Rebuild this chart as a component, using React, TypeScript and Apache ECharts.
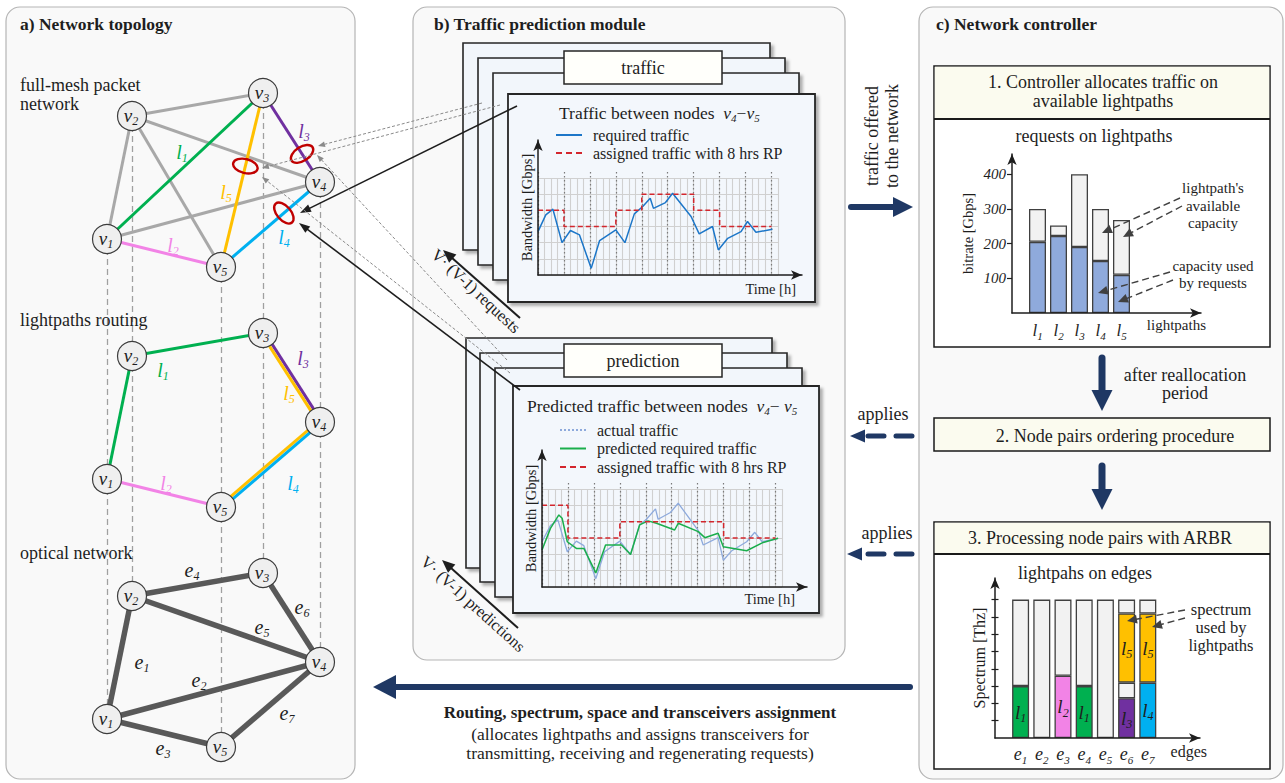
import React, { useEffect, useRef } from 'react';
import * as echarts from 'echarts';

const W = 1285;
const H = 783;
const FONT = "'Liberation Serif', 'Times New Roman', serif";
const INK = '#1e1e1e';
const NAVY = '#1f3864';
const LATTICE = '#d0d0d0';

// ---------------- a) Network topology ----------------
const NODE_IDS = ['v1', 'v2', 'v3', 'v4', 'v5'];
const NODE_X = [107, 132, 263, 320, 221];
const NODE_Y = [239, 116, 93, 182, 267];
const LAYER_SHIFT = [0, 240, 480];
const LAYER_TITLES = ['full-mesh packet\nnetwork', 'lightpaths routing', 'optical network'];
const LAYER_TITLE_Y = [94.5, 320, 553];

const LP_COLOR: Record<string, string> = {
  l1: '#00b050', l2: '#f283e6', l3: '#7030a0', l4: '#00b0f0', l5: '#ffc000', mesh: '#a8a8a8',
};
const MESH_LINKS = [
  ['v1', 'v2', 'mesh'], ['v2', 'v3', 'mesh'], ['v2', 'v4', 'mesh'], ['v2', 'v5', 'mesh'], ['v1', 'v4', 'mesh'],
  ['v1', 'v3', 'l1'], ['v1', 'v5', 'l2'], ['v3', 'v4', 'l3'], ['v5', 'v4', 'l4'], ['v3', 'v5', 'l5'],
];
const MESH_LABELS: [string, number, number][] = [['l1', 182, 152], ['l5', 226, 192], ['l3', 304, 131], ['l2', 173, 245], ['l4', 284, 237]];
const FAILED_LINKS: [string, string, number][] = [['v3', 'v5', 0.42], ['v3', 'v4', 0.685], ['v5', 'v4', 0.635]];

const ROUTING_LINKS = [['v1', 'v2', 'l1'], ['v2', 'v3', 'l1'], ['v1', 'v5', 'l2']];
const ROUTING_SHARED = [['v3', 'v4', 'l3', 'l5'], ['v5', 'v4', 'l5', 'l4']];
const ROUTING_LABELS: [string, number, number][] = [['l1', 163, 370], ['l3', 303, 358], ['l5', 289, 393], ['l2', 166, 483], ['l4', 293, 483]];

const OPTICAL_LINKS = [['v1', 'v2'], ['v1', 'v4'], ['v1', 'v5'], ['v2', 'v3'], ['v2', 'v4'], ['v3', 'v4'], ['v4', 'v5']];
const OPTICAL_LABELS: [string, number, number][] = [['e4', 192, 570], ['e6', 302, 607], ['e5', 262, 627], ['e1', 142, 662], ['e2', 199, 680], ['e7', 287, 713], ['e3', 163, 748]];

// ---------------- b) Traffic prediction module ----------------
const TRAFFIC_H = [0, 2.4, 4.6, 7.4, 10, 12.8, 16.4, 19, 24, 26.8, 29.7, 32.3, 34.6, 35.6, 39.3, 41.5, 47.2, 49.7, 53.8, 55.6, 58.5, 62.6, 64.6, 67.2, 72.3];
const TRAFFIC_V = [2.68, 3.72, 4.07, 2.0, 2.75, 2.48, 0.41, 2.13, 2.79, 2.0, 3.78, 4.24, 4.75, 4.12, 4.48, 5.06, 3.62, 2.54, 3.0, 1.55, 2.27, 2.68, 3.31, 2.64, 2.83];
const ASSIGNED_TOP = [4, 3, 3, 4, 5, 5, 4, 3, 3]; // per 8 h reallocation period

const ACTUAL_H = [0, 2.6, 4.9, 7.8, 10.6, 12.9, 16.6, 19.3, 24, 27.3, 30.1, 32.2, 35, 35.8, 39.6, 42, 48.2, 49.7, 54.3, 55.9, 58.4, 63.1, 65.6, 67.9, 72.8];
const ACTUAL_V = [2.77, 3.76, 4.11, 2.16, 2.81, 2.53, 0.51, 2.16, 2.81, 1.99, 3.8, 4.15, 4.78, 4.15, 4.56, 5.13, 3.45, 2.57, 3.02, 1.64, 2.2, 2.77, 3.35, 2.77, 2.98];
const PRED_H = [0, 2.6, 5.2, 6.2, 7.8, 10.6, 12.9, 16.6, 19.6, 24.5, 27.3, 30.1, 32.7, 35.3, 40.9, 42, 48.2, 50.2, 54.3, 55.9, 63.1, 68.2, 72.8];
const PRED_V = [2.26, 3.59, 4.41, 4.21, 2.77, 2.36, 2.36, 0.86, 2.57, 2.57, 1.99, 3.8, 4.05, 3.9, 3.49, 3.9, 3.39, 3.02, 3.29, 2.46, 2.22, 2.73, 2.98];
const ASSIGNED_BOTTOM = [5, 3, 3, 4, 4, 4, 4, 3, 3];
const PERIOD_H = 8;

// ---------------- c) Network controller ----------------
const LIGHTPATHS = ['l1', 'l2', 'l3', 'l4', 'l5'];
const LP_CAPACITY = [300, 252, 400, 300, 268];
const LP_USED = [205, 222, 190, 150, 110];
const BITRATE_TICKS = [100, 200, 300, 400];

const EDGES = ['e1', 'e2', 'e3', 'e4', 'e5', 'e6', 'e7'];
const SPEC_L1 = [3, null, null, 3, null, null, null];
const SPEC_L2 = [null, null, 3.6, null, null, null, null];
const SPEC_L3 = [null, null, null, null, null, 2.3, null];
const SPEC_L4 = [null, null, null, null, null, null, 3.2];
const SPEC_GAP = [null, null, null, null, null, 0.9, null];
const SPEC_L5 = [null, null, null, null, null, 4.0, 4.0];
const SPEC_FREE = [5, 8, 4.4, 5, 8, 0.8, 0.8];
const SPEC_TICKS = [1, 2, 3, 4, 5, 6, 7, 8];

// ---------------- layout helpers ----------------
const PANELS = [
  { x: 6, y: 7, w: 349, h: 772, title: 'a) Network topology', tx: 20 },
  { x: 413, y: 7, w: 432, h: 653, title: 'b) Traffic prediction module', tx: 434 },
  { x: 919, y: 7, w: 364, h: 772, title: 'c) Network controller', tx: 936 },
];
const STACKS = [
  { backs: [[463, 43, 307, 207], [478, 58, 307, 207], [493, 73, 306, 207]], front: [508, 94, 307, 208], tag: [564, 51, 158, 33], tagText: 'traffic' },
  { backs: [[466, 338, 306, 230], [480, 353, 307, 229], [495, 368, 307, 229]], front: [513, 386, 306, 227], tag: [564, 344, 158, 33], tagText: 'prediction' },
];

const ICON_SOLID = 'path://M0,0H26V2H0Z';
const ICON_DASHED = 'path://M0,0H6V2H0Z M10,0H16V2H10Z M20,0H26V2H20Z';
const ICON_DOTTED = 'path://M0,0H2V2H0Z M4,0H6V2H4Z M8,0H10V2H8Z M12,0H14V2H12Z M16,0H18V2H16Z M20,0H22V2H20Z M24,0H26V2H24Z';

const sub = (b: string, n: string) => `{i|${b}}{s|${n}}`;
function rich(size: number, color: string) {
  return {
    i: { fontFamily: FONT, fontStyle: 'italic', fontSize: size, color, fill: color, lineHeight: size + 4 },
    s: { fontFamily: FONT, fontStyle: 'italic', fontSize: Math.round(size * 0.62), color, fill: color, height: Math.round(size * 0.6), verticalAlign: 'bottom' },
    t: { fontFamily: FONT, fontSize: size, color, fill: color, lineHeight: size + 4 },
  };
}

function rect(x: number, y: number, w: number, h: number, style: any, z: number, r = 0): any {
  return { type: 'rect', z, silent: true, shape: { x, y, width: w, height: h, r }, style };
}
function text(str: string, x: number, y: number, o: any = {}): any {
  return {
    type: 'text', x, y, z: o.z ?? 60, rotation: o.rot ?? 0, silent: true,
    style: {
      text: str, x: 0, y: 0, fill: o.color ?? INK, fontFamily: FONT, fontSize: o.size ?? 18,
      fontWeight: o.bold ? 'bold' : 'normal', fontStyle: o.italic ? 'italic' : 'normal',
      align: o.align ?? 'center', verticalAlign: o.va ?? 'middle', lineHeight: o.lh, rich: o.rich,
    },
  };
}
function arrow(x1: number, y1: number, x2: number, y2: number, o: any = {}): any[] {
  const color = o.color ?? INK, w = o.width ?? 1.5, hl = o.hl ?? 10, hw = o.hw ?? 3.5, z = o.z ?? 60;
  const dx = x2 - x1, dy = y2 - y1, L = Math.hypot(dx, dy), ux = dx / L, uy = dy / L, px = -uy, py = ux;
  const bx = x2 - ux * hl, by = y2 - uy * hl;
  const ex = x2 - ux * hl * 0.7, ey = y2 - uy * hl * 0.7;
  return [
    { type: 'line', z, silent: true, shape: { x1, y1, x2: ex, y2: ey }, style: { stroke: color, lineWidth: w, lineDash: o.dash, lineCap: o.cap ?? 'butt', fill: 'none' } },
    { type: 'polygon', z, silent: true, shape: { points: [[x2, y2], [bx + px * hw, by + py * hw], [bx - px * hw, by - py * hw]] }, style: { fill: color } },
  ];
}

const hidden = { axisLine: { show: false }, axisTick: { show: false }, axisLabel: { show: false }, splitLine: { show: false } };
const arrowLine = { show: true, symbol: ['none', 'arrow'], symbolSize: [7, 11], lineStyle: { color: INK, width: 1.5 } };
const nameStyle = (size: number, extra: any = {}) => ({ fontFamily: FONT, fontSize: size, color: INK, ...extra });

function buildOption() {
  const pos = (id: string, layer: number) => {
    const i = NODE_IDS.indexOf(id);
    return [NODE_X[i], NODE_Y[i] + LAYER_SHIFT[layer]];
  };
  const nodeData = (layer: number) => NODE_IDS.map((id) => ({ name: id, value: pos(id, layer) }));
  const graph = (layer: number, links: any[]) => ({
    type: 'graph', coordinateSystem: 'cartesian2d', xAxisIndex: 0, yAxisIndex: 0, layout: 'none', silent: true, z: 12,
    symbol: 'circle', symbolSize: 29,
    itemStyle: { color: '#efefef', borderColor: '#3c3c3c', borderWidth: 1.2 },
    label: { show: true, position: 'inside', offset: [-1, -1], formatter: (p: any) => sub('v', p.name.slice(1)), rich: rich(19, INK) },
    lineStyle: { opacity: 1, curveness: 0 },
    emphasis: { disabled: true },
    data: nodeData(layer),
    links,
  });

  // ---------- graphic ----------
  const G: any[] = [];
  PANELS.forEach((p) => {
    G.push(rect(p.x, p.y, p.w, p.h, { fill: '#f9f9f9', stroke: '#b5b5b5', lineWidth: 1.2 }, 1, 14));
    G.push(text(p.title, p.tx, 24, { bold: true, size: 17.5, align: 'left' }));
  });
  LAYER_TITLES.forEach((t, i) => G.push(text(t, 20, LAYER_TITLE_Y[i], { align: 'left', lh: 19, size: 18 })));

  const lpLabel = (arr: [string, number, number][], colored: boolean) =>
    arr.forEach(([n, x, y]) => {
      const c = colored ? LP_COLOR[n] : INK;
      G.push(text(sub(n[0], n.slice(1)), x, y, { rich: rich(20, c), color: c }));
    });
  lpLabel(MESH_LABELS, true);
  lpLabel(ROUTING_LABELS, true);
  lpLabel(OPTICAL_LABELS, false);

  FAILED_LINKS.forEach(([s, t, f]) => {
    const a = pos(s, 0), b = pos(t, 0);
    const cx = a[0] + (b[0] - a[0]) * f, cy = a[1] + (b[1] - a[1]) * f;
    const ang = Math.atan2(b[1] - a[1], b[0] - a[0]) + Math.PI / 2;
    G.push({ type: 'ellipse', z: 60, silent: true, x: cx, y: cy, rotation: -ang, shape: { cx: 0, cy: 0, rx: 12.5, ry: 7 }, style: { fill: 'none', stroke: '#c00000', lineWidth: 2.4 } });
  });

  // panel b stacks
  STACKS.forEach((s) => {
    s.backs.forEach((r, i) => G.push(rect(r[0], r[1], r[2], r[3], { fill: '#f2f6fb', stroke: '#262626', lineWidth: 1.6, shadowBlur: 3, shadowOffsetX: 3, shadowOffsetY: 3, shadowColor: 'rgba(0,0,0,0.3)' }, 2 + i)));
    const t = s.tag;
    G.push(rect(t[0], t[1], t[2], t[3], { fill: '#fffffb', stroke: '#262626', lineWidth: 1.5 }, 6));
    G.push(text(s.tagText, t[0] + t[2] / 2, t[1] + t[3] / 2, { size: 18, z: 7 }));
    const f = s.front;
    G.push(rect(f[0], f[1], f[2], f[3], { fill: '#f3f7fc', stroke: '#262626', lineWidth: 1.8, shadowBlur: 3, shadowOffsetX: 3, shadowOffsetY: 3, shadowColor: 'rgba(0,0,0,0.3)' }, 8));
  });
  G.push(text(`{t|Traffic between nodes  }${sub('v', '4')}{t|−}${sub('v', '5')}`, 559, 113, { align: 'left', rich: rich(17.5, INK), size: 17.5 }));
  G.push(text(`{t|Predicted traffic between nodes  }${sub('v', '4')}{t|− }${sub('v', '5')}`, 527, 406, { align: 'left', rich: rich(17.5, INK), size: 17.5 }));
  G.push(text('V· (V-1) requests', 476, 291, { size: 16.5, rot: -43 * Math.PI / 180 }));
  G.push(text('V· (V-1) predictions', 473, 604, { size: 16.5, rot: -42 * Math.PI / 180 }));

  // arrows between panels a and b
  [[517, 106, 300, 213], [520, 390, 299, 223]].forEach((a) => G.push(...arrow(a[0], a[1], a[2], a[3], { width: 1.6, hl: 11, hw: 4 })));
  [[482, 103, 318, 146], [500, 105, 262, 168], [507, 360, 317, 155], [510, 373, 262, 177]].forEach((a) =>
    G.push(...arrow(a[0], a[1], a[2], a[3], { width: 1, color: '#8a8a8a', dash: [3, 2], hl: 7, hw: 2.8 })));
  [[520, 318, 443, 250], [518, 628, 442, 560]].forEach((a) => G.push(...arrow(a[0], a[1], a[2], a[3], { width: 2, hl: 13, hw: 5.5 })));

  // panel c boxes
  G.push(rect(934, 66, 336, 281, { fill: '#ffffff', stroke: '#1a1a1a', lineWidth: 1.5 }, 2));
  G.push(rect(934.8, 66.8, 334.4, 52, { fill: '#fbfbef' }, 3));
  G.push({ type: 'line', z: 4, silent: true, shape: { x1: 934, y1: 119, x2: 1270, y2: 119 }, style: { stroke: '#1a1a1a', lineWidth: 2.2 } });
  G.push(text('1. Controller allocates traffic on\navailable lightpaths', 1103, 91.5, { lh: 19 }));
  G.push(text('requests on lightpaths', 1094, 136));
  G.push(rect(934, 418, 336, 33, { fill: '#fbfbef', stroke: '#1a1a1a', lineWidth: 1.5 }, 2));
  G.push(text('2. Node pairs ordering procedure', 1115, 435.5));
  G.push(rect(934, 522, 336, 247, { fill: '#ffffff', stroke: '#1a1a1a', lineWidth: 1.5 }, 2));
  G.push(rect(934.8, 522.8, 334.4, 31, { fill: '#fbfbef' }, 3));
  G.push({ type: 'line', z: 4, silent: true, shape: { x1: 934, y1: 554, x2: 1270, y2: 554 }, style: { stroke: '#1a1a1a', lineWidth: 2.2 } });
  G.push(text('3. Processing node pairs with ARBR', 1100, 538));
  G.push(text('lightpahs on edges', 1085, 573));
  G.push(text("lightpath's\navailable\ncapacity", 1213, 205.5, { size: 15, lh: 17.5 }));
  G.push(text('capacity used\nby requests', 1213, 274.5, { size: 15, lh: 17.5 }));
  G.push(text('spectrum\nused by\nlightpaths', 1221, 627, { size: 16.5, lh: 18 }));
  [[1180, 198, 1102, 233], [1182, 206, 1123, 237], [1170, 272, 1098, 293], [1173, 280, 1118, 302], [1185, 610, 1127, 621], [1185, 618, 1152, 627]]
    .forEach((a) => G.push(...arrow(a[0], a[1], a[2], a[3], { width: 1.4, color: '#404040', dash: [7, 4], hl: 10, hw: 4.5 })));

  // navy flow arrows
  const navy = { color: NAVY, cap: 'round' };
  G.push(...arrow(851, 207, 913, 207, { ...navy, width: 6, hl: 20, hw: 10 }));
  G.push(text('traffic offered\nto the network', 882, 136, { lh: 20, rot: Math.PI / 2 }));
  G.push(...arrow(1102, 358, 1102, 411, { ...navy, width: 7, hl: 21, hw: 10.5 }));
  G.push(text('after reallocation\nperiod', 1185, 384, { lh: 18 }));
  G.push(...arrow(1102, 466, 1102, 510, { ...navy, width: 7, hl: 21, hw: 10.5 }));
  G.push(...arrow(912, 436, 850, 436, { ...navy, width: 5, hl: 15, hw: 6.5, dash: [16, 12] }));
  G.push(text('applies', 883, 414));
  G.push(...arrow(912, 554, 847, 554, { ...navy, width: 5, hl: 15, hw: 6.5, dash: [16, 12] }));
  G.push(text('applies', 887, 533));
  G.push(...arrow(910, 687, 373, 687, { ...navy, width: 6, hl: 23, hw: 12 }));
  G.push(text('Routing, spectrum, space and transceivers assignment', 640, 712, { bold: true, size: 17 }));
  G.push(text('(allocates lightpaths and assigns transceivers for\ntransmitting, receiving and regenerating requests)', 640, 743.5, { size: 17.5, lh: 19.5 }));

  // ---------- grids ----------
  const grids = [
    { left: 0, top: 0, width: W, height: H },
    { left: 538, top: 178, width: 240, height: 97 },
    { left: 538, top: 140, width: 264, height: 135 },
    { left: 538, top: 172, width: 233.5, height: 103 },
    { left: 542, top: 489, width: 240, height: 98 },
    { left: 542, top: 450, width: 265, height: 137 },
    { left: 542, top: 483, width: 233.5, height: 104 },
    { left: 1027, top: 174.2, width: 105, height: 138.8 },
    { left: 1012, top: 154, width: 189, height: 159 },
    { left: 1010, top: 599.6, width: 148.4, height: 138.4 },
    { left: 995, top: 578, width: 205, height: 160 },
  ].map((g) => ({ ...g, outerBoundsMode: 'none', containLabel: false }));

  const latticeX = (gi: number) => ({ type: 'value', gridIndex: gi, min: 0, max: 74, interval: 2, z: 10, ...hidden, splitLine: { show: true, lineStyle: { color: LATTICE, width: 1.1 } } });
  const latticeY = (gi: number) => ({ type: 'value', gridIndex: gi, min: 0, max: 6, interval: 1, z: 10, ...hidden, splitLine: { show: true, lineStyle: { color: LATTICE, width: 1.1 } } });
  const periodX = (gi: number) => ({ type: 'value', gridIndex: gi, min: 0, max: 72, interval: PERIOD_H, z: 11, ...hidden, splitLine: { show: true, lineStyle: { color: '#7a7a7a', type: [1.5, 2.5], width: 1.2 } } });
  const blankY = (gi: number) => ({ type: 'value', gridIndex: gi, min: 0, max: 1, show: false });
  const frameX = (gi: number, name: string, gap: number, pad: number, size: number) => ({
    type: 'value', gridIndex: gi, min: 0, max: 1, z: 13, ...hidden, axisLine: arrowLine,
    name, nameLocation: 'end', nameGap: gap, nameTextStyle: nameStyle(size, { align: 'right', verticalAlign: 'top', padding: [pad, 0, 0, 0] }),
  });
  const frameY = (gi: number, name: string, gap: number, size: number) => ({
    type: 'value', gridIndex: gi, min: 0, max: 1, z: 13, ...hidden, axisLine: arrowLine,
    name, nameLocation: 'middle', nameGap: gap, nameRotate: 90, nameTextStyle: nameStyle(size),
  });

  const xAxis = [
    { type: 'value', gridIndex: 0, min: 0, max: W, show: false },
    latticeX(1), frameX(2, 'Time [h]', -6, 6, 14.5), periodX(3),
    latticeX(4), frameX(5, 'Time [h]', -12, 4, 14.5), periodX(6),
    {
      type: 'category', gridIndex: 7, data: LIGHTPATHS, z: 13, axisLine: { show: false }, axisTick: { show: false }, splitLine: { show: false },
      axisLabel: { interval: 0, hideOverlap: false, margin: 7, formatter: (v: string) => sub('l', v.slice(1)), rich: rich(17, INK) },
    },
    frameX(8, 'lightpaths', 5, 4, 15),
    {
      type: 'category', gridIndex: 9, data: EDGES, z: 13, axisLine: { show: false }, axisTick: { show: false }, splitLine: { show: false },
      axisLabel: { interval: 0, hideOverlap: false, margin: 5, formatter: (v: string) => sub('e', v.slice(1)), rich: rich(18, INK) },
    },
    frameX(10, 'edges', 7, 5, 16),
  ];
  const yAxis = [
    { type: 'value', gridIndex: 0, min: 0, max: H, inverse: true, show: false },
    latticeY(1), frameY(2, 'Bandwidth [Gbps]', 4, 14.5), blankY(3),
    latticeY(4), frameY(5, 'Bandwidth [Gbps]', 4, 14.5), blankY(6),
    {
      type: 'value', gridIndex: 7, min: 0, max: 400, interval: 100, position: 'left', offset: 15, z: 13,
      axisLine: { show: false }, splitLine: { show: false },
      axisTick: { show: true, length: 5, customValues: BITRATE_TICKS, lineStyle: { color: INK, width: 1.2 } },
      axisLabel: { show: true, margin: 6, customValues: BITRATE_TICKS, formatter: (v: number) => (v === 0 ? '' : String(v)), fontFamily: FONT, fontStyle: 'italic', fontSize: 15, color: INK },
    },
    frameY(8, 'bitrate [Gbps]', 37, 14.5),
    {
      type: 'value', gridIndex: 9, min: 0, max: 8, interval: 1, position: 'left', offset: 15, z: 13,
      axisLine: { show: false }, splitLine: { show: false }, axisLabel: { show: false },
      axisTick: { show: true, length: 3.5, customValues: SPEC_TICKS, lineStyle: { color: INK, width: 1.2 } },
    },
    {
      type: 'value', gridIndex: 9, min: 0, max: 8, interval: 1, position: 'left', offset: 15, z: 13,
      axisLine: { show: false }, splitLine: { show: false }, axisLabel: { show: false },
      axisTick: { show: true, inside: true, length: 3.5, customValues: SPEC_TICKS, lineStyle: { color: INK, width: 1.2 } },
    },
    frameY(10, 'Spectrum [Thz]', 8, 16),
  ];

  // ---------- series ----------
  const stepData = (levels: number[]) => [...levels.map((v, i) => [i * PERIOD_H, v]), [levels.length * PERIOD_H, levels[levels.length - 1]]];
  const lineSeries = (name: string, xi: number, data: any[], color: string, extra: any = {}) => ({
    type: 'line', name, xAxisIndex: xi, yAxisIndex: xi, data, symbol: 'none', silent: true, z: 12,
    lineStyle: { color, width: 1.5, ...(extra.lineStyle || {}) }, itemStyle: { color }, step: extra.step,
  });
  const pair = (hs: number[], vs: number[]) => hs.map((h, i) => [h, vs[i]]);

  const barBorder = { borderColor: '#404040', borderWidth: 1.3 };
  const bitrateFree = LP_CAPACITY.map((c, i) => c - LP_USED[i]);
  const specBar = (name: string, data: any[], color: string, withLabel: boolean) => ({
    type: 'bar', name, xAxisIndex: 9, yAxisIndex: 9, stack: 'spectrum', barWidth: 17, data, silent: true, z: 12,
    itemStyle: { color, ...barBorder },
    label: withLabel ? { show: true, position: 'inside', formatter: () => sub(name[0], name.slice(1)), rich: rich(19, INK) } : { show: false },
  });

  const series: any[] = [
    {
      type: 'lines', coordinateSystem: 'cartesian2d', xAxisIndex: 0, yAxisIndex: 0, silent: true, z: 5,
      lineStyle: { color: '#a0a0a0', width: 1.3, type: [6, 4], opacity: 1 },
      data: NODE_IDS.map((id) => ({ coords: [pos(id, 0), pos(id, 2)] })),
    },
    graph(0, MESH_LINKS.map(([s, t, c]) => ({ source: s, target: t, lineStyle: { color: LP_COLOR[c], width: 3 } }))),
    {
      type: 'lines', coordinateSystem: 'cartesian2d', xAxisIndex: 0, yAxisIndex: 0, silent: true, z: 8,
      data: ROUTING_SHARED.flatMap(([s, t, cPlus, cMinus]) => {
        const a = pos(s, 1), b = pos(t, 1);
        const dx = b[0] - a[0], dy = b[1] - a[1], L = Math.hypot(dx, dy);
        const px = dy / L, py = -dx / L, off = 1.6;
        return [
          { coords: [[a[0] + px * off, a[1] + py * off], [b[0] + px * off, b[1] + py * off]], lineStyle: { color: LP_COLOR[cPlus], width: 3, opacity: 1 } },
          { coords: [[a[0] - px * off, a[1] - py * off], [b[0] - px * off, b[1] - py * off]], lineStyle: { color: LP_COLOR[cMinus], width: 3, opacity: 1 } },
        ];
      }),
    },
    graph(1, ROUTING_LINKS.map(([s, t, c]) => ({ source: s, target: t, lineStyle: { color: LP_COLOR[c], width: 3 } }))),
    graph(2, OPTICAL_LINKS.map(([s, t]) => ({ source: s, target: t, lineStyle: { color: '#595959', width: 5.5 } }))),

    lineSeries('required traffic', 1, pair(TRAFFIC_H, TRAFFIC_V), '#1c76c8'),
    lineSeries('assigned traffic with 8 hrs RP', 1, stepData(ASSIGNED_TOP), '#d3262d', { step: 'end', lineStyle: { type: [5, 3] } }),
    lineSeries('actual traffic', 4, pair(ACTUAL_H, ACTUAL_V), '#8eaadc', { lineStyle: { width: 1.3 } }),
    lineSeries('predicted required traffic', 4, pair(PRED_H, PRED_V), '#1aae4c'),
    lineSeries('assigned traffic with 8 hrs RP', 4, stepData(ASSIGNED_BOTTOM), '#d3262d', { step: 'end', lineStyle: { type: [5, 3] } }),

    { type: 'bar', name: 'capacity used by requests', xAxisIndex: 7, yAxisIndex: 7, stack: 'lp', barWidth: 17, data: LP_USED, silent: true, z: 12, itemStyle: { color: '#8faadc', ...barBorder } },
    { type: 'bar', name: "lightpath's available capacity", xAxisIndex: 7, yAxisIndex: 7, stack: 'lp', barWidth: 17, data: bitrateFree, silent: true, z: 12, itemStyle: { color: '#f2f2f2', ...barBorder } },

    specBar('l1', SPEC_L1, LP_COLOR.l1, true),
    specBar('l2', SPEC_L2, LP_COLOR.l2, true),
    specBar('l3', SPEC_L3, LP_COLOR.l3, true),
    specBar('l4', SPEC_L4, LP_COLOR.l4, true),
    specBar('guard', SPEC_GAP, '#f2f2f2', false),
    specBar('l5', SPEC_L5, LP_COLOR.l5, true),
    specBar('free spectrum', SPEC_FREE, '#f2f2f2', false),
  ];

  const legendText = { fontFamily: FONT, fontSize: 16, color: INK, lineHeight: 16, padding: [0, 0, 0, 6] };
  const legendBase = { orient: 'vertical', padding: 0, itemWidth: 26, itemHeight: 2, selectedMode: false, symbolKeepAspect: false, textStyle: legendText, z: 20 };
  const legend = [
    { ...legendBase, left: 556, top: 127, itemGap: 2, data: [{ name: 'required traffic', icon: ICON_SOLID }, { name: 'assigned traffic with 8 hrs RP', icon: ICON_DASHED }] },
    { ...legendBase, left: 560, top: 422, itemGap: 2.5, data: [{ name: 'actual traffic', icon: ICON_DOTTED }, { name: 'predicted required traffic', icon: ICON_SOLID }, { name: 'assigned traffic with 8 hrs RP', icon: ICON_DASHED }] },
  ];

  return {
    animation: false,
    backgroundColor: '#ffffff',
    textStyle: { fontFamily: FONT },
    grid: grids,
    xAxis,
    yAxis,
    legend,
    series,
    graphic: { elements: G },
  };
}

export default function App() {
  const ref = useRef<HTMLDivElement>(null);
  useEffect(() => {
    const chart = echarts.init(ref.current as HTMLDivElement, null, { renderer: 'svg', width: W, height: H });
    chart.setOption(buildOption() as any);
    return () => chart.dispose();
  }, []);
  return <div ref={ref} style={{ position: 'absolute', left: 0, top: 0, width: W, height: H }} />;
}
